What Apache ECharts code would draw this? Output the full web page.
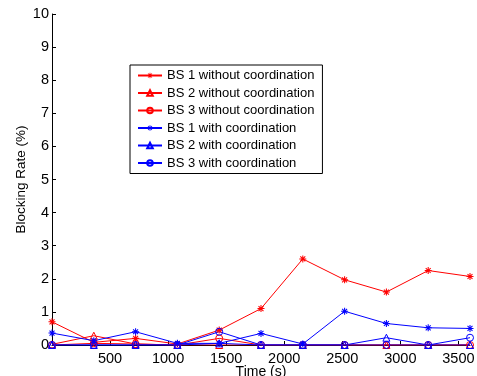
<!DOCTYPE html>
<html>
<head>
<meta charset="utf-8">
<script src="https://cdn.jsdelivr.net/npm/echarts@6/dist/echarts.min.js"></script>
<style>
html,body{margin:0;padding:0;background:#fff;}
#c{width:477px;height:376px;}
</style>
</head>
<body>
<div id="c"></div>
<script>
var times = [0, 360, 720, 1080, 1440, 1800, 2160, 2520, 2880, 3240, 3600];
var bs1Without = [0.70, 0.08, 0.20, 0.03, 0.45, 1.10, 2.60, 1.97, 1.60, 2.25, 2.07];
var bs2Without = [0.02, 0.28, 0.03, 0, 0, 0, 0, 0, 0, 0, 0];
var bs3Without = [0, 0.05, 0.03, 0, 0.20, 0, 0, 0, 0, 0, 0];
var bs1With = [0.36, 0.13, 0.40, 0.05, 0.05, 0.35, 0.03, 1.02, 0.65, 0.52, 0.50];
var bs2With = [0, 0, 0, 0, 0.05, 0, 0, 0, 0.22, 0, 0];
var bs3With = [0, 0, 0, 0, 0.40, 0, 0, 0, 0, 0, 0.22];
var seriesNames = ['BS 1 without coordination', 'BS 2 without coordination', 'BS 3 without coordination',
  'BS 1 with coordination', 'BS 2 with coordination', 'BS 3 with coordination'];
var yTicks = [0, 1, 2, 3, 4, 5, 6, 7, 8, 9, 10];
var xTicks = [500, 1000, 1500, 2000, 2500, 3000, 3500];

var asterisk = 'path://M-0.15,-1L0.15,-1L0.15,1L-0.15,1Z M-1,-0.15L1,-0.15L1,0.15L-1,0.15Z M-0.601,-0.813L0.813,0.601L0.601,0.813L-0.813,-0.601Z M0.601,-0.813L0.813,-0.601L-0.601,0.813L-0.813,0.601Z';
var FONT = 'Liberation Sans, Arial, Helvetica, sans-serif';

function pair(vals) { return times.map(function (t, i) { return [t, vals[i]]; }); }

function mk(name, vals, color, kind) {
  var s = {
    name: name, type: 'line', data: pair(vals),
    showAllSymbol: true,
    lineStyle: { color: color, width: 1 },
    emphasis: { disabled: true },
    z: 2
  };
  if (kind === 'star') {
    s.symbol = asterisk; s.symbolSize = 7;
    s.itemStyle = { color: color, borderWidth: 0 };
  } else if (kind === 'tri') {
    s.symbol = 'triangle'; s.symbolSize = 7;
    s.itemStyle = { color: 'rgba(255,255,255,0)', borderColor: color, borderWidth: 1 };
  } else {
    s.symbol = 'circle'; s.symbolSize = 7;
    s.itemStyle = { color: 'rgba(255,255,255,0)', borderColor: color, borderWidth: 1 };
  }
  return s;
}

var chart = echarts.init(document.getElementById('c'), null, { renderer: 'canvas' });
chart.setOption({
  animation: false,
  backgroundColor: '#fff',
  textStyle: { fontFamily: FONT },
  grid: { left: 52, right: 7, top: 14, bottom: 31, containLabel: false, outerBoundsMode: 'none' },
  legend: {
    left: 130, top: 65, orient: 'vertical',
    backgroundColor: '#fff', borderColor: '#000', borderWidth: 1,
    padding: [3, 8, 3, 7],
    itemGap: 2.5, itemWidth: 24, itemHeight: 7,
    textStyle: { fontFamily: FONT, fontSize: 13, color: '#000', lineHeight: 15 },
    data: seriesNames
  },
  xAxis: {
    type: 'value', min: 0, max: 3600, interval: 500,
    name: 'Time (s)', nameLocation: 'middle', nameGap: 20, nameMoveOverlap: false,
    nameTextStyle: { fontFamily: FONT, fontSize: 14, color: '#000' },
    axisLine: { show: true, lineStyle: { color: '#000', width: 1 } },
    axisTick: { show: true, inside: true, length: 4, lineStyle: { color: '#000' } },
    axisLabel: {
      showMinLabel: false, showMaxLabel: false, margin: 6,
      fontFamily: FONT, fontSize: 14.5, color: '#000',
      formatter: function (v) { return xTicks.indexOf(v) >= 0 ? String(v) : ''; }
    },
    splitLine: { show: false }
  },
  yAxis: {
    type: 'value', min: 0, max: 10, interval: 1,
    name: 'Blocking Rate (%)', nameLocation: 'middle', nameGap: 24, nameRotate: 90, nameMoveOverlap: false,
    nameTextStyle: { fontFamily: FONT, fontSize: 13.5, color: '#000' },
    axisLine: { show: true, lineStyle: { color: '#000', width: 1 } },
    axisTick: { show: true, inside: true, length: 4, lineStyle: { color: '#000' } },
    axisLabel: {
      margin: 3, fontFamily: FONT, fontSize: 14.5, color: '#000',
      formatter: function (v) { return yTicks.indexOf(v) >= 0 ? String(v) : ''; }
    },
    splitLine: { show: false }
  },
  series: [
    mk(seriesNames[0], bs1Without, '#ff0000', 'star'),
    mk(seriesNames[1], bs2Without, '#ff0000', 'tri'),
    mk(seriesNames[2], bs3Without, '#ff0000', 'circ'),
    mk(seriesNames[3], bs1With, '#0000ff', 'star'),
    mk(seriesNames[4], bs2With, '#0000ff', 'tri'),
    mk(seriesNames[5], bs3With, '#0000ff', 'circ')
  ]
});
</script>
</body>
</html>
